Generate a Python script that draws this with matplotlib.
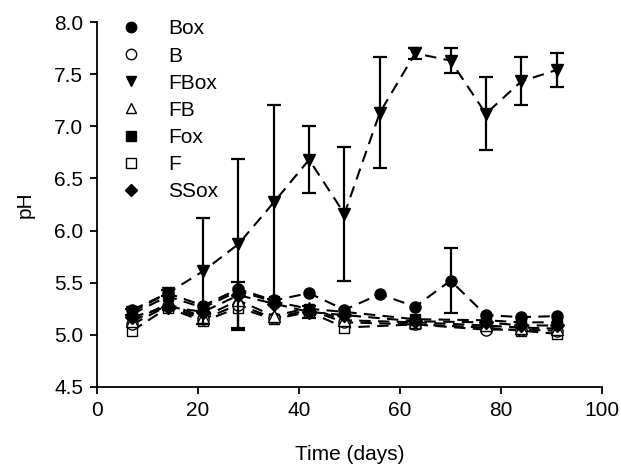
import numpy as np
import matplotlib
matplotlib.use("Agg")
import matplotlib.pyplot as plt
from matplotlib.lines import Line2D

plt.rcParams['font.family'] = ['Liberation Sans', 'DejaVu Sans']

days = [7, 14, 21, 28, 35, 42, 49, 56, 63, 70, 77, 84, 91]
days_short = [7, 14, 21, 28, 35, 42, 49, 63, 77, 84, 91]

box = [5.24, 5.40, 5.28, 5.44, 5.33, 5.40, 5.24, 5.39, 5.27, 5.52, 5.19, 5.17, 5.18]
box_err = [0, 0, 0, 0, 0, 0, 0, 0, 0, 0.31, 0, 0, 0]

fbox = [5.22, 5.40, 5.61, 5.87, 6.27, 6.68, 6.16, 7.13, 7.70, 7.63, 7.12, 7.43, 7.54]
fbox_err = [0.03, 0.03, 0.51, 0.82, 0.93, 0.32, 0.64, 0.53, 0.05, 0.12, 0.35, 0.23, 0.16]

b = [5.10, 5.28, 5.15, 5.29, 5.16, 5.24, 5.12, 5.10, 5.05, 5.05, 5.04]
b_err = [0, 0, 0, 0.22, 0, 0, 0, 0, 0, 0, 0]
fb = [5.13, 5.30, 5.17, 5.33, 5.18, 5.26, 5.14, 5.12, 5.09, 5.07, 5.06]
fox = [5.20, 5.37, 5.26, 5.42, 5.32, 5.25, 5.22, 5.15, 5.14, 5.12, 5.12]
f = [5.04, 5.26, 5.13, 5.26, 5.15, 5.22, 5.07, 5.10, 5.07, 5.04, 5.01]
f_err = [0, 0, 0, 0, 0, 0.06, 0, 0, 0, 0, 0]
ssox = [5.17, 5.27, 5.22, 5.38, 5.30, 5.22, 5.19, 5.13, 5.12, 5.09, 5.09]

labels = ["Box", "B", "FBox", "FB", "Fox", "F", "SSox"]

FS = 15

fig = plt.figure(figsize=(6.21, 4.68), dpi=100)
ax = fig.add_axes([97 / 621, 1 - 387 / 468, 505 / 621, 365 / 468])

line_kw = dict(color="black", linestyle=(0, (5.5, 3.5)), linewidth=1.5)
err_kw = dict(ecolor="black", elinewidth=1.6, capsize=5, capthick=1.6)


def draw(x, y, marker, face, ms, err=None, z=3):
    ax.plot(x, y, zorder=z - 1, **line_kw)
    if err is not None:
        e = np.array(err)
        yy = np.array(y)
        keep = e > 0
        ax.errorbar(np.array(x)[keep], yy[keep], yerr=e[keep], fmt="none",
                    zorder=z - 0.5, **err_kw)
    ax.plot(x, y, linestyle="none", marker=marker, markersize=ms,
            markerfacecolor=face, markeredgecolor="black",
            markeredgewidth=1.0, zorder=z)


draw(days_short, f, "s", "white", 7.5, f_err, z=3)
draw(days_short, b, "o", "white", 8, b_err, z=4)
draw(days_short, fb, "^", "white", 8, None, z=5)
draw(days_short, ssox, "D", "black", 7, None, z=6)
draw(days_short, fox, "s", "black", 7.5, None, z=7)
draw(days, box, "o", "black", 8, box_err, z=8)
draw(days, fbox, "v", "black", 8.5, fbox_err, z=9)

ax.set_xlim(0, 100)
ax.set_ylim(4.5, 8.0)
ax.set_xticks(np.arange(0, 101, 20))
ax.set_yticks(np.arange(4.5, 8.01, 0.5))
ax.set_yticklabels([f"{v:.1f}" for v in np.arange(4.5, 8.01, 0.5)])
for s in ("top", "right"):
    ax.spines[s].set_visible(False)
for s in ("left", "bottom"):
    ax.spines[s].set_linewidth(1.3)
ax.tick_params(direction="out", length=5, width=1.3, labelsize=FS, pad=5)
ax.set_xlabel("Time (days)", fontsize=FS, labelpad=18)
ax.set_ylabel("pH", fontsize=FS, labelpad=14)

handles = [
    Line2D([], [], linestyle="none", marker="o", markersize=7.5, mfc="black", mec="black"),
    Line2D([], [], linestyle="none", marker="o", markersize=7.5, mfc="white", mec="black"),
    Line2D([], [], linestyle="none", marker="v", markersize=7.5, mfc="black", mec="black"),
    Line2D([], [], linestyle="none", marker="^", markersize=7.5, mfc="white", mec="black"),
    Line2D([], [], linestyle="none", marker="s", markersize=7, mfc="black", mec="black"),
    Line2D([], [], linestyle="none", marker="s", markersize=7, mfc="white", mec="black"),
    Line2D([], [], linestyle="none", marker="D", markersize=6.5, mfc="black", mec="black"),
]
ax.legend(handles, labels, loc="upper left", bbox_to_anchor=(0.03, 1.03),
          frameon=False, fontsize=FS, labelspacing=0.39, handletextpad=1.3,
          handlelength=1.0, borderaxespad=0)

fig.savefig("out.png", dpi=100)
